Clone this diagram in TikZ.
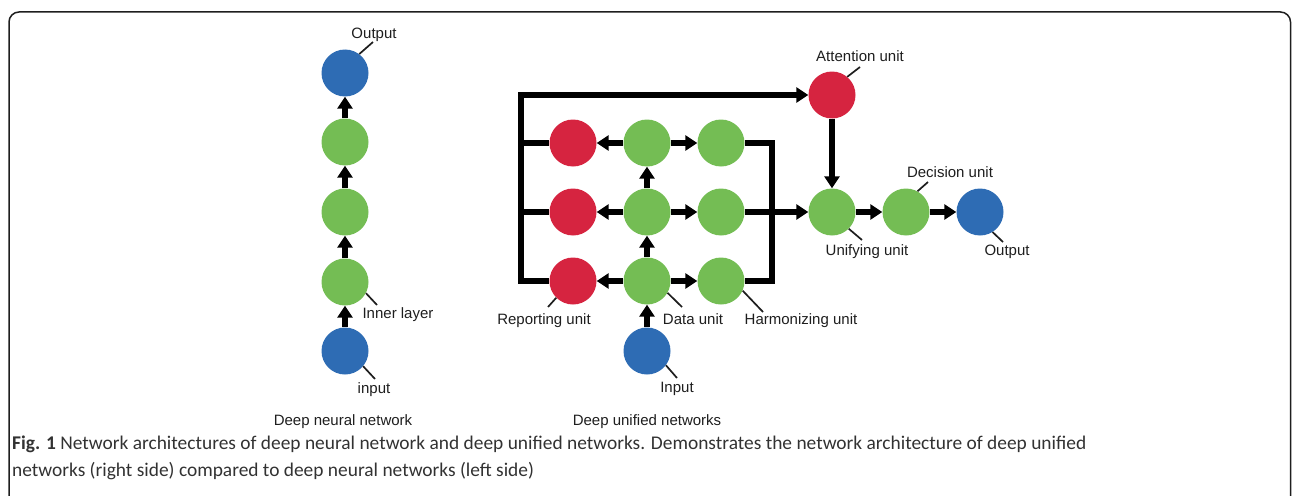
\documentclass[tikz,border=0pt]{standalone}
\usepackage{fontspec}
\setmainfont{Liberation Sans}
\newfontfamily\capfont{Carlito}
\usetikzlibrary{arrows.meta}

\definecolor{nodeblue}{RGB}{46,108,180}
\definecolor{nodegreen}{RGB}{116,189,84}
\definecolor{nodered}{RGB}{214,36,64}
\definecolor{inkgray}{RGB}{30,30,30}
\definecolor{capgray}{RGB}{50,50,50}

\begin{document}
\begin{tikzpicture}[x=1pt,y=-1pt,
  unit/.style={circle,minimum size=47pt,inner sep=0pt,fill=#1},
  flow/.style={line width=5.5pt,-{Triangle[length=12pt,width=15pt]}},
  bus/.style={line width=5.5pt},
  lead/.style={line width=1.7pt,draw=inkgray},
  lbl/.style={font=\fontsize{15}{18}\selectfont,text=inkgray,inner sep=0pt,anchor=base},
  frame/.style={line width=1.5pt,draw=inkgray,rounded corners=10pt},
  captxt/.style={anchor=base west,inner sep=0pt,text=capgray,font=\capfont\fontsize{19.4}{24}\selectfont},
]
\useasboundingbox (0,0) rectangle (1292,495);

% outer frame, open at the bottom
\draw[frame] (9,500) -- (9,12) -- (1290.5,12) -- (1290.5,500);

% ---------------- deep neural network ----------------
\node[unit=nodeblue]  (nOut) at (345,73)  {};
\node[unit=nodegreen] (nH1)  at (345,142) {};
\node[unit=nodegreen] (nH2)  at (345,212) {};
\node[unit=nodegreen] (nH3)  at (345,282) {};
\node[unit=nodeblue]  (nIn)  at (345,351) {};

\draw[flow] (nIn.north) -- (nH3.south);
\draw[flow] (nH3.north) -- (nH2.south);
\draw[flow] (nH2.north) -- (nH1.south);
\draw[flow] (nH1.north) -- (nOut.south);

\node[lbl] (tOutL)   at (374,39)  {Output};
\node[lbl] (tInner)  at (398,318) {Inner layer};
\node[lbl] (tInL)    at (374,393) {input};
\node[lbl] (tDNN)    at (343,425) {Deep neural network};

\coordinate (eOutL)  at (373,42);
\coordinate (eInner) at (377,305);
\coordinate (eInL)   at (375,379);
\draw[lead] (nOut.53)  -- (eOutL);
\draw[lead] (nH3.-28)  -- (eInner);
\draw[lead] (nIn.-40)  -- (eInL);

% ---------------- deep unified networks ----------------
\node[unit=nodered]   (rep1) at (573,143) {};
\node[unit=nodered]   (rep2) at (573,212) {};
\node[unit=nodered]   (rep3) at (573,281) {};
\node[unit=nodegreen] (dat1) at (647,143) {};
\node[unit=nodegreen] (dat2) at (647,212) {};
\node[unit=nodegreen] (dat3) at (647,281) {};
\node[unit=nodegreen] (har1) at (721,143) {};
\node[unit=nodegreen] (har2) at (721,212) {};
\node[unit=nodegreen] (har3) at (721,281) {};
\node[unit=nodeblue]  (uIn)  at (647,351) {};
\node[unit=nodered]   (att)  at (832,95)  {};
\node[unit=nodegreen] (uni)  at (832,212) {};
\node[unit=nodegreen] (dec)  at (906,212) {};
\node[unit=nodeblue]  (uOut) at (980,212) {};

% bus lines
\coordinate (busTop) at (521,95);
\coordinate (busL1)  at (521,143);
\coordinate (busL2)  at (521,212);
\coordinate (busL3)  at (521,281);
\coordinate (busR1)  at (772,143);
\coordinate (busR3)  at (772,281);

\draw[flow] (rep3.west) -- (busL3) -- (busTop) -- (att.west);
\draw[bus]  (rep1.west) -- (busL1);
\draw[bus]  (rep2.west) -- (busL2);
\draw[bus]  (har1.east) -- (busR1) -- (busR3) -- (har3.east);

% data unit arrows
\draw[flow] (uIn.north)  -- (dat3.south);
\draw[flow] (dat3.north) -- (dat2.south);
\draw[flow] (dat2.north) -- (dat1.south);
\foreach \r in {1,2,3} {
  \draw[flow] (dat\r.west) -- (rep\r.east);
  \draw[flow] (dat\r.east) -- (har\r.west);
}

% unification path
\draw[flow] (har2.east) -- (uni.west);
\draw[flow] (att.south) -- (uni.north);
\draw[flow] (uni.east)  -- (dec.west);
\draw[flow] (dec.east)  -- (uOut.west);

% labels
\node[lbl] (tRep)  at (544,324) {Reporting unit};
\node[lbl] (tDat)  at (693,324) {Data unit};
\node[lbl] (tHar)  at (801,324) {Harmonizing unit};
\node[lbl] (tInR)  at (677,392) {Input};
\node[lbl] (tAtt)  at (860,61)  {Attention unit};
\node[lbl] (tDec)  at (950,177) {Decision unit};
\node[lbl] (tUni)  at (867,255) {Unifying unit};
\node[lbl] (tOutR) at (1007,255) {Output};
\node[lbl] (tDUN)  at (647,425) {Deep unified networks};

\coordinate (eRep)  at (548,307);
\coordinate (eDat)  at (682,307);
\coordinate (eHar)  at (763,312);
\coordinate (eInR)  at (677,378);
\coordinate (eAtt)  at (860,67);
\coordinate (eUni)  at (862,240);
\coordinate (eDec)  at (928,182);
\coordinate (eOutR) at (1003,242);
\draw[lead] (rep3.-135) -- (eRep);
\draw[lead] (dat3.-30)  -- (eDat);
\draw[lead] (har3.-24)  -- (eHar);
\draw[lead] (uIn.-37)   -- (eInR);
\draw[lead] (att.50)    -- (eAtt);
\draw[lead] (uni.-45)   -- (eUni);
\draw[lead] (dec.61)    -- (eDec);
\draw[lead] (uOut.-58)  -- (eOutR);

% caption
\node[captxt] (cap1) at (12,449)
  {\textbf{Fig. 1} Network architectures of deep neural network and deep unified networks. Demonstrates the network architecture of deep unified};
\node[captxt] (cap2) at (12,476)
  {networks (right side) compared to deep neural networks (left side)};
\end{tikzpicture}
\end{document}
